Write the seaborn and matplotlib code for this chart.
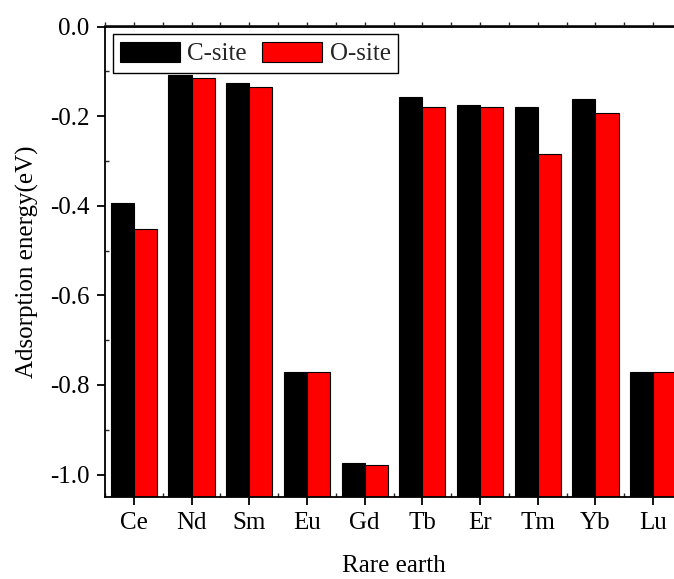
import matplotlib
matplotlib.use("Agg")
import matplotlib.pyplot as plt
import seaborn as sns
import pandas as pd
from matplotlib.ticker import MultipleLocator, FixedLocator
from matplotlib.patches import Patch

elements = ["Ce", "Nd", "Sm", "Eu", "Gd", "Tb", "Er", "Tm", "Yb", "Lu"]
c_site = [-0.393, -0.109, -0.127, -0.770, -0.974, -0.157, -0.176, -0.179, -0.161, -0.770]
o_site = [-0.451, -0.115, -0.136, -0.772, -0.978, -0.180, -0.180, -0.285, -0.194, -0.772]
series_names = ["C-site", "O-site"]
colors = ["black", "red"]
y_base = -1.05

df = pd.DataFrame({
    "Rare earth": elements * 2,
    "Energy": c_site + o_site,
    "Site": [series_names[0]] * len(elements) + [series_names[1]] * len(elements),
})

FS = 18
sns.set_theme(style="ticks")
plt.rcParams["font.family"] = ["Liberation Serif", "DejaVu Serif"]
plt.rcParams["font.size"] = FS
plt.rcParams["axes.linewidth"] = 1.3

fig = plt.figure(figsize=(6.74, 5.79), dpi=100)
ax = fig.add_axes([105 / 674, 1 - 497 / 579, (682 - 105) / 674, (497 - 26.5) / 579])

sns.barplot(data=df, x="Rare earth", y="Energy", hue="Site", order=elements,
            hue_order=series_names, palette=dict(zip(series_names, colors)),
            edgecolor="black", linewidth=0.8, width=0.8, saturation=1,
            ax=ax, legend=False)

# Origin-style: bars rise from the bottom of the axis up to the value
for cont in ax.containers:
    for patch in cont.patches:
        val = patch.get_y() + patch.get_height()
        patch.set_y(y_base)
        patch.set_height(val - y_base)

ax.set_ylim(y_base, 0.0)
ax.set_xlim(-0.5, len(elements) - 0.5)
ax.yaxis.set_minor_locator(MultipleLocator(0.1))
ax.set_yticks([0.0, -0.2, -0.4, -0.6, -0.8, -1.0])
ax.set_yticklabels(["0.0", "-0.2", "-0.4", "-0.6", "-0.8", "-1.0"])
ax.xaxis.set_minor_locator(FixedLocator([i + 0.5 for i in range(-1, len(elements))]))

ax.tick_params(axis="both", which="major", direction="out", length=6, width=1.3,
               labelsize=FS, pad=5, colors="black")
ax.tick_params(axis="y", which="minor", direction="in", length=3, width=1.0)
ax.tick_params(axis="x", which="minor", direction="in", length=3, width=1.0)
ax.tick_params(axis="x", which="both", top=False)

for s in ax.spines.values():
    s.set_color("black")
    s.set_linewidth(1.3)

# top axis with small outward ticks at every half category
top = ax.secondary_xaxis("top")
top.set_xticks([i * 0.5 for i in range(-1, 2 * len(elements))])
top.tick_params(direction="out", length=3, width=1.0, labeltop=False)

ax.set_xlabel("Rare earth", fontsize=FS, labelpad=15, color="black")
ax.set_ylabel("Adsorption energy(eV)", fontsize=FS, labelpad=8, color="black")

handles = [Patch(facecolor=c, edgecolor="black", linewidth=0.8) for c in colors]
leg = ax.legend(handles, series_names, loc="upper left", ncol=2, frameon=True,
                fancybox=False, edgecolor="black", framealpha=1,
                handlelength=2.4, handleheight=0.9, handletextpad=0.3,
                columnspacing=0.6, borderpad=0.3, borderaxespad=0.3,
                fontsize=FS)
leg.get_frame().set_linewidth(1.0)

fig.savefig("out.png", dpi=100)
